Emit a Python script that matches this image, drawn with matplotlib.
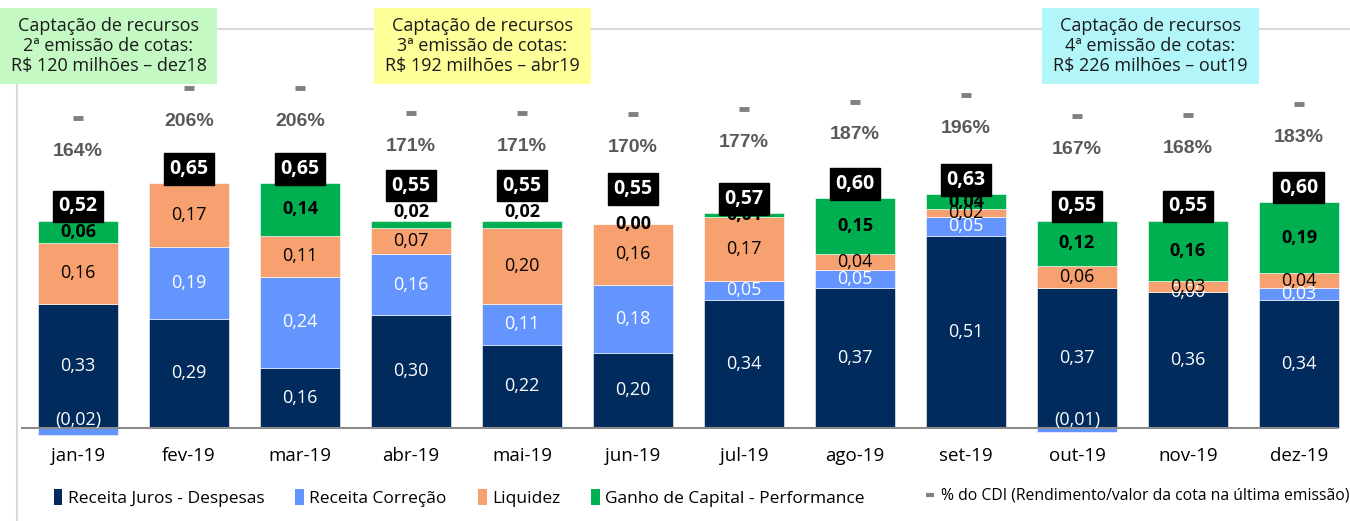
import numpy as np
import matplotlib
matplotlib.use("Agg")
import matplotlib.pyplot as plt
from matplotlib.patches import Patch, Rectangle
from matplotlib.lines import Line2D

# data
months = ["jan-19", "fev-19", "mar-19", "abr-19", "mai-19", "jun-19",
          "jul-19", "ago-19", "set-19", "out-19", "nov-19", "dez-19"]
juros = [0.33, 0.29, 0.16, 0.30, 0.22, 0.20, 0.34, 0.37, 0.51, 0.37, 0.36, 0.34]
correcao = [-0.02, 0.19, 0.24, 0.16, 0.11, 0.18, 0.05, 0.05, 0.05, -0.01, 0.00, 0.03]
liquidez = [0.16, 0.17, 0.11, 0.07, 0.20, 0.16, 0.17, 0.04, 0.02, 0.06, 0.03, 0.04]
ganho = [0.06, None, 0.14, 0.02, 0.02, 0.00, 0.01, 0.15, 0.04, 0.12, 0.16, 0.19]
totais = [0.52, 0.65, 0.65, 0.55, 0.55, 0.55, 0.57, 0.60, 0.63, 0.55, 0.55, 0.60]
cdi = [164, 206, 206, 171, 171, 170, 177, 187, 196, 167, 168, 183]

series_names = ["Receita Juros - Despesas", "Receita Correção", "Liquidez",
                "Ganho de Capital - Performance"]
cdi_name = "% do CDI (Rendimento/valor da cota na última emissão)"

box_texts = ["Captação de recursos\n2ª emissão de cotas:\nR$ 120 milhões – dez18",
             "Captação de recursos\n3ª emissão de cotas:\nR$ 192 milhões – abr19",
             "Captação de recursos\n4ª emissão de cotas:\nR$ 226 milhões – out19"]
box_colors = ["#C4F9C4", "#FFFF99", "#B3F6FA"]

colors = ["#002B5C", "#6495FF", "#F8A170", "#00B050"]
text_colors = ["white", "white", "black", "black"]
FONT = "Open Sans"


def fmt(v):
    s = "%.2f" % abs(v)
    s = s.replace(".", ",")
    return "(%s)" % s if v < 0 else s


W, H = 1350, 521
fig = plt.figure(figsize=(W / 100, H / 100), dpi=100)
ax = fig.add_axes([17 / W, (H - 440) / H, (W - 17) / W, 411 / H])

x = np.arange(len(months))
width = 0.72
pos_base = np.zeros(len(months))
neg_base = np.zeros(len(months))
lifted = np.zeros(len(months), dtype=bool)

for k, vals in enumerate([juros, correcao, liquidez, ganho]):
    for i, v in enumerate(vals):
        if v is None:
            continue
        if v >= 0:
            b = pos_base[i]
            pos_base[i] += v
        else:
            b = neg_base[i]
            neg_base[i] += v
        ax.bar(x[i], v, width, bottom=b, color=colors[k],
               edgecolor="white", linewidth=0.4)
        style = dict(ha="center", va="center", color=text_colors[k],
                     fontsize=13, family=FONT,
                     fontweight="bold" if k == 3 else "normal")
        if v < 0:
            ax.text(x[i], 0.022, fmt(v), **style)
        elif k == 3 and 0.015 < v < 0.03:
            # thin green slices: label sits just above the top
            lifted[i] = True
            ax.annotate(fmt(v), (x[i], b + v), xytext=(0, 6),
                        textcoords="offset points", **style)
        else:
            if k == 3 and v == 0:
                lifted[i] = True
            ax.text(x[i], b + v / 2, fmt(v), **style)

# totals in black boxes
for i, t in enumerate(totais):
    dy = 18 if lifted[i] else 3
    ax.annotate(fmt(t), (x[i], pos_base[i]), xytext=(0, dy),
                textcoords="offset points", ha="center", va="bottom",
                color="white", fontsize=14, fontweight="bold", family=FONT,
                bbox=dict(boxstyle="square,pad=0.3", fc="black", ec="black"))

ax.axhline(0, color="#8C8C8C", lw=1.5, xmin=0.004, xmax=0.99)
ax.set_xlim(-0.55, 11.46)
ax.set_ylim(-0.032, 1.058)
for s in ax.spines.values():
    s.set_visible(False)
ax.set_yticks([])
ax.set_xticks(x)
ax.set_xticklabels(months, family=FONT, fontsize=13.5)
ax.tick_params(axis="x", length=0, pad=5)

# % do CDI on secondary axis
ax2 = ax.twinx()
ax2.plot(x, cdi, linestyle="none", marker="_", markersize=7,
         markeredgewidth=3.5, color="#808080")
for i, c in enumerate(cdi):
    ax2.annotate("%d%%" % c, (x[i], c), xytext=(0, -24),
                 textcoords="offset points", ha="center", va="center",
                 color="#595959", fontsize=14, fontweight="bold",
                 family="Liberation Sans")
ax2.set_ylim(-287, 288.6)
ax2.set_yticks([])
for s in ax2.spines.values():
    s.set_visible(False)

# chart area border lines
fig.add_artist(Line2D([17 / W, 1], [(H - 29) / H, (H - 29) / H],
                      color="#D9D9D9", lw=1.5, transform=fig.transFigure))
fig.add_artist(Line2D([17 / W, 17 / W], [0, (H - 29) / H],
                      color="#D9D9D9", lw=1.5, transform=fig.transFigure))

# emission boxes at top
for left, txt, fc in zip([0, 374, 1042], box_texts, box_colors):
    fig.add_artist(Rectangle((left / W, (H - 84) / H), 217 / W, 76 / H,
                             transform=fig.transFigure, fc=fc, ec="none",
                             zorder=5))
    fig.text((left + 108.5) / W, (H - 46) / H, txt, ha="center", va="center",
             fontsize=13, family=FONT, linespacing=1.15, color="#1a1a1a",
             zorder=6)

# legends
handles = [Patch(fc=c, ec="none") for c in colors]
leg1 = fig.legend(handles, series_names, loc="center left",
                  bbox_to_anchor=(38 / W, (H - 498) / H), ncol=4,
                  frameon=False, handlelength=0.5, handleheight=1.0,
                  handletextpad=0.3, columnspacing=1.8,
                  prop={"family": FONT, "size": 12.5})
leg2 = fig.legend([Line2D([], [], ls="none", marker="_", markersize=6,
                          markeredgewidth=3, color="#808080")], [cdi_name],
                  loc="center left", bbox_to_anchor=(908 / W, (H - 496) / H),
                  frameon=False, handlelength=1.0, handletextpad=0.2,
                  prop={"family": FONT, "size": 11.3})

plt.savefig("out.png", dpi=100)
